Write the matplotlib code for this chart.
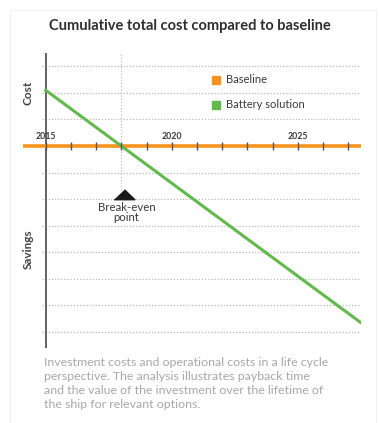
import matplotlib.pyplot as plt
from matplotlib.patches import Rectangle

# data (arbitrary cost units, 0 = baseline)
years_baseline = [2014.1, 2027.5]
baseline = [0, 0]
years_battery = [2015, 2018, 2027.5]
battery = [2.1, 0, -6.65]
breakeven_year = 2018
tick_years = list(range(2015, 2028))
label_years = [2015, 2020, 2025]
grid_levels = [3, 2, 1, -1, -2, -3, -4, -5, -6, -7]

orange = '#F7941D'
green = '#62BA4C'
dark = '#3a3a3a'

plt.rcParams['font.family'] = ['Lato', 'DejaVu Sans']

fig = plt.figure(figsize=(3.79, 4.23), dpi=100)
ax = fig.add_axes([23 / 379, 75 / 423, 338 / 379, 295 / 423])
ax.set_xlim(2014.1, 2027.5)
ax.set_ylim(-7.6, 3.5)
ax.axis('off')

# dotted grid
ax.hlines(grid_levels, 2014.85, 2027.45, colors='#b8b8b8', linestyles=(0, (1, 1.5)), lw=0.9, zorder=1)
ax.vlines(breakeven_year, -1.65, 3.5, colors='#c0c0c0', linestyles=(0, (1, 1.5)), lw=0.9, zorder=1)

# left spine
ax.axvline(2015, color='#555555', lw=1.3, zorder=2)

ax.plot(years_baseline, baseline, color=orange, lw=2.6, solid_capstyle='butt', zorder=3)
ax.plot(years_battery, battery, color=green, lw=2.2, zorder=4)

# ticks on the baseline
ax.plot(tick_years, [0] * len(tick_years), linestyle='none', marker='|', markersize=6,
        markeredgewidth=1.0, color='#555555', zorder=5)
for yr in label_years:
    ax.text(yr, 0.2, str(yr), ha='center', va='bottom', fontsize=6.3, fontweight='bold', color=dark)

# break-even marker (flat triangle)
tri = [(-1, -0.5), (1, -0.5), (0, 0.45)]
ax.plot(breakeven_year + 0.1, -1.8, marker=tri, markersize=15, color='#1a1a1a', zorder=5)
ax.text(breakeven_year + 0.2, -2.1, 'Break-even\npoint', ha='center', va='top',
        fontsize=8.2, color=dark, linespacing=0.95)

# legend
ax.plot(2021.75, 2.49, marker='s', markersize=6, color=orange, linestyle='none')
ax.plot(2021.75, 1.55, marker='s', markersize=6, color=green, linestyle='none')
ax.text(2022.15, 2.49, 'Baseline', va='center', fontsize=8, color=dark)
ax.text(2022.15, 1.55, 'Battery solution', va='center', fontsize=8, color=dark)

# side labels
fig.text(28 / 379, 1 - 93 / 423, 'Cost', rotation=90, ha='center', va='center',
         fontsize=8.5, color='#444444', fontweight='bold')
fig.text(28 / 379, 1 - 249 / 423, 'Savings', rotation=90, ha='center', va='center',
         fontsize=8.5, color='#444444', fontweight='bold')

fig.text(190 / 379, 1 - 26 / 423, 'Cumulative total cost compared to baseline', ha='center', va='center',
         fontsize=10.5, fontweight='bold', color='#2e2e2e')

caption = ('Investment costs and operational costs in a life cycle\n'
           'perspective. The analysis illustrates payback time\n'
           'and the value of the investment over the lifetime of\n'
           'the ship for relevant options.')
fig.text(44 / 379, 1 - 357 / 423, caption, ha='left', va='top', fontsize=8.9, color='#a8a8a8',
         linespacing=1.32)

fig.patches.append(Rectangle((10 / 379, 0), 366 / 379, 1 - 10 / 423, transform=fig.transFigure,
                             fill=False, edgecolor='#f0f0f0', lw=0.8))

fig.savefig('out.png', dpi=100)
